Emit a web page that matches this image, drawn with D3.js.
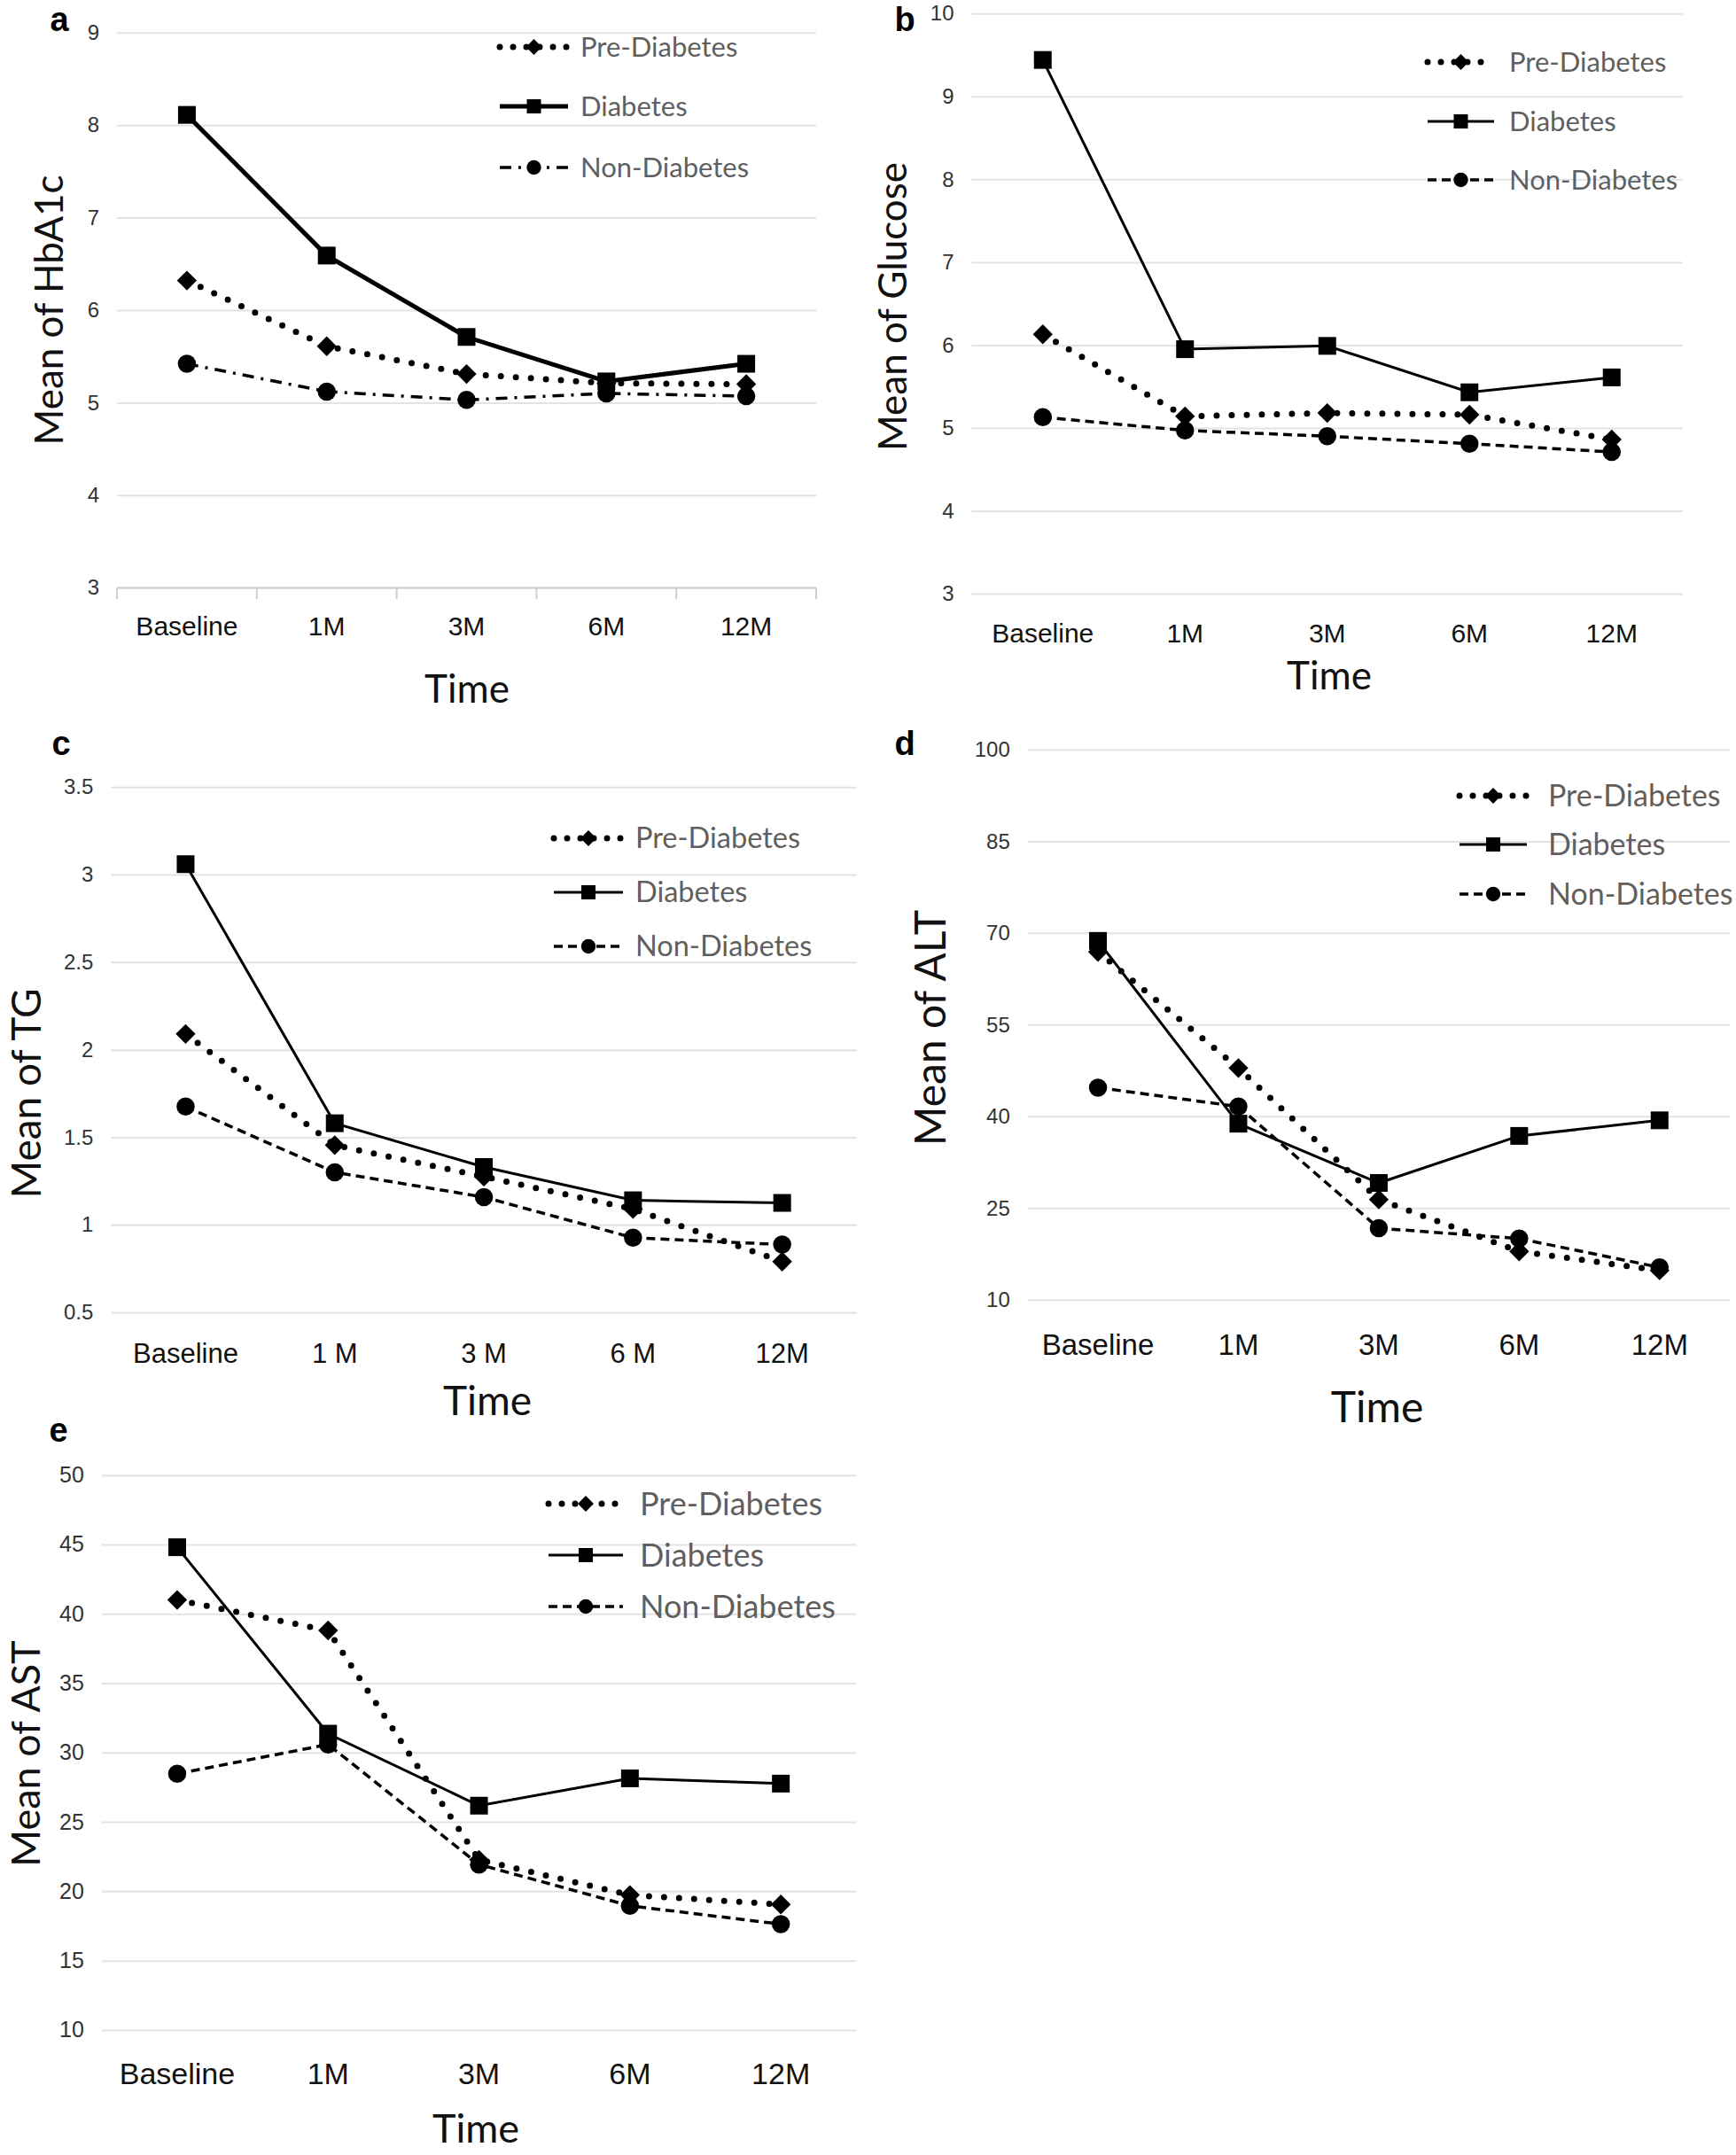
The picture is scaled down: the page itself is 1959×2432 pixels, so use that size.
<!DOCTYPE html>
<html>
<head>
<meta charset="utf-8">
<script src="https://cdn.jsdelivr.net/npm/d3@7"></script>
<style>
  body { margin: 0; background: #fff; }
  svg { display: block; font-family: Lato, "Open Sans", sans-serif; }
</style>
</head>
<body>
<svg id="chart" width="1959" height="2432"></svg>
<script>
// Categories and series names
const timePoints = ["Baseline", "1M", "3M", "6M", "12M"];
const timePointsTG = ["Baseline", "1 M", "3 M", "6 M", "12M"];
const groups = ["Pre-Diabetes", "Diabetes", "Non-Diabetes"];

// a - HbA1c
const hba1cPre = [6.32, 5.61, 5.31, 5.21, 5.20];
const hba1cDia = [8.11, 6.59, 5.71, 5.23, 5.42];
const hba1cNon = [5.42, 5.12, 5.03, 5.10, 5.07];
const hba1cTicks = [3, 4, 5, 6, 7, 8, 9];

// b - Glucose
const gluPre = [6.13, 5.14, 5.18, 5.16, 4.86];
const gluDia = [9.44, 5.95, 5.99, 5.43, 5.61];
const gluNon = [5.13, 4.97, 4.90, 4.81, 4.71];
const gluTicks = [3, 4, 5, 6, 7, 8, 9, 10];

// c - TG
const tgPre = [2.09, 1.455, 1.275, 1.09, 0.79];
const tgDia = [3.06, 1.58, 1.33, 1.14, 1.125];
const tgNon = [1.675, 1.30, 1.158, 0.926, 0.887];
const tgTicks = [0.5, 1, 1.5, 2, 2.5, 3, 3.5];

// d - ALT
const altPre = [66.9, 47.9, 26.4, 17.9, 14.8];
const altDia = [68.7, 38.8, 29.1, 36.8, 39.35];
const altNon = [44.7, 41.6, 21.7, 20.0, 15.3];
const altTicks = [10, 25, 40, 55, 70, 85, 100];

// e - AST
const astPre = [41.0, 38.8, 22.27, 19.73, 19.05];
const astDia = [44.8, 31.36, 26.17, 28.14, 27.76];
const astNon = [28.47, 30.58, 21.93, 18.95, 17.63];
const astTicks = [10, 15, 20, 25, 30, 35, 40, 45, 50];

// panel layout (pixel boxes) + which data goes in each
const panels = [
  { letter: "a", cats: timePoints, series: [hba1cPre, hba1cDia, hba1cNon], ticks: hba1cTicks,
    yTitle: "Mean of HbA1c", left: 132, right: 921, top: 36.7, bottom: 663.3,
    xLabelY: 707, timeX: 527, timeY: 778, yTitleX: 56, yTitleY: 350, letterX: 67, letterBase: 35,
    legX: 564, legW: 77, legTextX: 655, legY: [53, 120, 189],
    tickFont: 30, legFont: 31, yTickFont: 24, titleFont: 44, diaWidth: 5, nonDash: "13 8 3 8", axisTicks: true },
  { letter: "b", cats: timePoints, series: [gluPre, gluDia, gluNon], ticks: gluTicks,
    yTitle: "Mean of Glucose", left: 1096.5, right: 1899, top: 15.3, bottom: 670,
    xLabelY: 714, timeX: 1500, timeY: 763, yTitleX: 1008, yTitleY: 346, letterX: 1021, letterBase: 35,
    legX: 1611, legW: 75, legTextX: 1703, legY: [70, 137, 203],
    tickFont: 30, legFont: 31, yTickFont: 24, titleFont: 44, diaWidth: 3, nonDash: "10 6" },
  { letter: "c", cats: timePointsTG, series: [tgPre, tgDia, tgNon], ticks: tgTicks,
    yTitle: "Mean of TG", left: 125.3, right: 966.8, top: 888.3, bottom: 1481,
    xLabelY: 1527, timeX: 550, timeY: 1581, yTitleX: 30, yTitleY: 1234, letterX: 69, letterBase: 852,
    legX: 625, legW: 78, legTextX: 717, legY: [946, 1007, 1068],
    tickFont: 31, legFont: 32.5, yTickFont: 24, titleFont: 46, diaWidth: 3, nonDash: "10 6" },
  { letter: "d", cats: timePoints, series: [altPre, altDia, altNon], ticks: altTicks,
    yTitle: "Mean of ALT", left: 1159.8, right: 1952, top: 845.9, bottom: 1466.8,
    xLabelY: 1517, timeX: 1554, timeY: 1588, yTitleX: 1050, yTitleY: 1160, letterX: 1021, letterBase: 852,
    legX: 1647, legW: 76, legTextX: 1747, legY: [898, 953, 1009],
    tickFont: 33, legFont: 34, yTickFont: 24, titleFont: 48, diaWidth: 3, nonDash: "10 6" },
  { letter: "e", cats: timePoints, series: [astPre, astDia, astNon], ticks: astTicks,
    yTitle: "Mean of AST", left: 114.8, right: 966.3, top: 1664.7, bottom: 2290.9,
    xLabelY: 2340, timeX: 537, timeY: 2402, yTitleX: 29, yTitleY: 1979, letterX: 66, letterBase: 1627,
    legX: 619, legW: 84, legTextX: 722, legY: [1697, 1755, 1813],
    tickFont: 34, legFont: 36, yTickFont: 25, titleFont: 45, diaWidth: 3, nonDash: "10 6" }
];

const svg = d3.select("#chart");

function drawPanel(p) {
  const g = svg.append("g");
  const x = d3.scaleBand().domain(p.cats).range([p.left, p.right]);
  const y = d3.scaleLinear().domain(d3.extent(p.ticks)).range([p.bottom, p.top]);
  const cx = (c) => x(c) + x.bandwidth() / 2;

  // gridlines + y tick labels
  const yAxis = g.append("g")
    .attr("transform", `translate(${p.left},0)`)
    .call(d3.axisLeft(y).tickValues(p.ticks).tickSize(-(p.right - p.left)).tickPadding(20)
      .tickFormat(d3.format("")));
  yAxis.select(".domain").remove();
  yAxis.selectAll("line").attr("stroke", "#e3e3e3").attr("stroke-width", 2);
  yAxis.selectAll("text").attr("font-size", p.yTickFont).attr("fill", "#333");

  // x labels
  const xAxis = g.append("g")
    .attr("transform", `translate(0,${p.bottom})`)
    .call(d3.axisBottom(x).tickSize(0).tickPadding(0));
  xAxis.select(".domain").remove();
  xAxis.selectAll("text")
    .attr("y", p.xLabelY - p.bottom).attr("dy", "0.35em")
    .attr("font-size", p.tickFont).attr("fill", "#111");

  // only panel a has the axis line with tick marks
  if (p.axisTicks) {
    const edges = p.cats.map((c) => x(c)).concat([p.right]);
    g.append("g").selectAll("line").data(edges).join("line")
      .attr("x1", (d) => d).attr("x2", (d) => d)
      .attr("y1", p.bottom).attr("y2", p.bottom + 13)
      .attr("stroke", "#d0d0d0").attr("stroke-width", 2);
    g.append("line").attr("x1", p.left).attr("x2", p.right)
      .attr("y1", p.bottom).attr("y2", p.bottom)
      .attr("stroke", "#d0d0d0").attr("stroke-width", 2);
  }

  const styles = [
    { width: 7, dash: "0 17", cap: "round", symbol: "diamond" },
    { width: p.diaWidth, dash: null, cap: "butt", symbol: "square" },
    { width: 3.5, dash: p.nonDash, cap: "butt", symbol: "circle" }
  ];

  const line = d3.line().x((d, i) => cx(p.cats[i])).y((d) => y(d));

  p.series.forEach((vals, si) => {
    const st = styles[si];
    g.append("path").datum(vals)
      .attr("d", line)
      .attr("fill", "none").attr("stroke", "#000")
      .attr("stroke-width", st.width)
      .attr("stroke-linecap", st.cap)
      .attr("stroke-dasharray", st.dash);
    g.append("g").selectAll("path").data(vals).join("path")
      .attr("d", markerPath(st.symbol, 1))
      .attr("transform", (d, i) => `translate(${cx(p.cats[i])},${y(d)})` + (st.symbol === "diamond" ? " rotate(45)" : ""))
      .attr("fill", "#000");
  });

  // legend
  groups.forEach((name, si) => {
    const st = styles[si];
    const ly = p.legY[si];
    g.append("line")
      .attr("x1", p.legX).attr("x2", p.legX + p.legW)
      .attr("y1", ly).attr("y2", ly)
      .attr("stroke", "#000").attr("stroke-width", si === 2 && p.letter === "a" ? 3.5 : st.width)
      .attr("stroke-linecap", st.cap)
      .attr("stroke-dasharray", si === 0 ? "0 15" : st.dash);
    g.append("path")
      .attr("d", markerPath(st.symbol, 0.8))
      .attr("transform", `translate(${p.legX + p.legW / 2},${ly})` + (st.symbol === "diamond" ? " rotate(45)" : ""))
      .attr("fill", "#000");
    g.append("text")
      .attr("x", p.legTextX).attr("y", ly).attr("dy", "0.35em")
      .attr("font-size", p.legFont).attr("fill", "#5f5f5f")
      .text(name);
  });

  // titles
  g.append("text").attr("x", p.timeX).attr("y", p.timeY).attr("dy", "0.35em")
    .attr("text-anchor", "middle").attr("font-size", p.titleFont).attr("fill", "#111")
    .text("Time");
  g.append("text")
    .attr("transform", `translate(${p.yTitleX},${p.yTitleY}) rotate(-90)`)
    .attr("dy", "0.35em").attr("text-anchor", "middle")
    .attr("font-size", p.titleFont).attr("fill", "#111")
    .text(p.yTitle);
  g.append("text").attr("x", p.letterX).attr("y", p.letterBase)
    .attr("text-anchor", "middle").attr("font-size", 38).attr("font-weight", "bold")
    .attr("font-family", "Liberation Sans, Arial, sans-serif")
    .text(p.letter);
}

function markerPath(kind, k) {
  if (kind === "diamond") return d3.symbol(d3.symbolSquare, 250 * k * k)();
  if (kind === "square") return d3.symbol(d3.symbolSquare, 400 * k * k)();
  return d3.symbol(d3.symbolCircle, 330 * k * k)();
}

panels.forEach(drawPanel);
</script>
</body>
</html>
